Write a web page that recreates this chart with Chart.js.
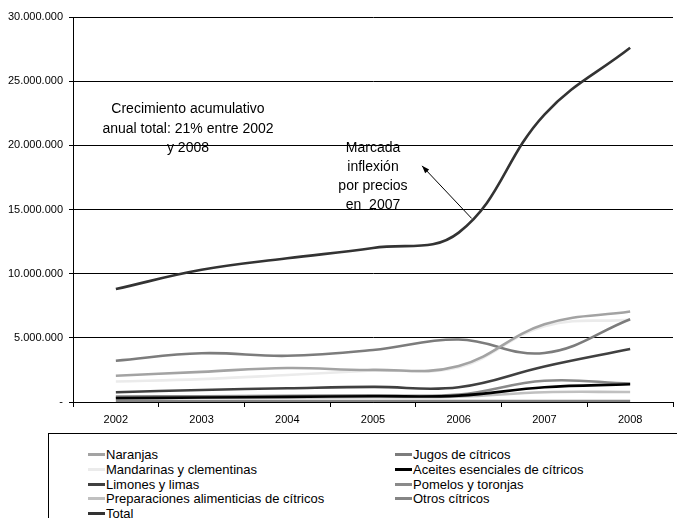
<!DOCTYPE html>
<html lang="es">
<head>
<meta charset="UTF-8">
<title>Exportaciones de cítricos</title>
<script src="https://cdn.jsdelivr.net/npm/chart.js"></script>
<style>
  body { margin: 0; width: 677px; height: 518px; overflow: hidden; background: #fff; font-family: "Liberation Sans", Arial, sans-serif; position: relative; }
  #wrap { position: absolute; left: 0; top: 0; width: 677px; height: 430px; }
  .nota { position: absolute; text-align: center; font-size: 14px; line-height: 19.5px; color: #000; white-space: nowrap; }
  #leyenda { position: absolute; left: 48px; top: 433px; width: 660px; height: 100px; border: 1px solid #000; box-sizing: border-box; }
  .item { position: absolute; font-size: 13px; line-height: 14px; white-space: nowrap; }
  .item span.m { display: inline-block; width: 17px; height: 3px; vertical-align: middle; margin-right: 1px; position: relative; top: -1px; }
</style>
</head>
<body>
<div id="wrap"><canvas id="grafico"></canvas></div>
<div class="nota" style="left:88px; top:99px; width:200px;">Crecimiento acumulativo<br>anual total: 21% entre 2002<br>y 2008</div>
<div class="nota" style="left:313px; top:138px; width:120px; line-height:19px;">Marcada<br>inflexión<br>por precios<br>en &nbsp;2007</div>
<div id="leyenda"></div>

<script>
const anios = ['2002', '2003', '2004', '2005', '2006', '2007', '2008'];

const naranjas      = [2050000, 2350000, 2650000, 2500000, 2800000, 6050000, 7050000];
const jugos         = [3220000, 3800000, 3600000, 4050000, 4870000, 3820000, 6450000];
const mandarinas    = [1600000, 1780000, 2100000, 2450000, 2700000, 5900000, 6400000];
const aceites       = [300000, 350000, 400000, 450000, 500000, 1150000, 1380000];
const limones       = [760000, 940000, 1070000, 1180000, 1150000, 2770000, 4130000];
const pomelos       = [420000, 450000, 480000, 520000, 580000, 1660000, 1430000];
const preparaciones = [270000, 300000, 330000, 370000, 420000, 760000, 780000];
const otros         = [60000, 60000, 70000, 70000, 70000, 80000, 80000];
const total         = [8800000, 10300000, 11200000, 12000000, 13200000, 22400000, 27600000];

const ticksY = [0, 5000000, 10000000, 15000000, 20000000, 25000000, 30000000];

// orden de la leyenda (dos columnas)
const series = [
  { label: 'Naranjas', data: naranjas, color: '#a3a3a3', col: 0, fila: 0 },
  { label: 'Jugos de cítricos', data: jugos, color: '#7c7c7c', col: 1, fila: 0 },
  { label: 'Mandarinas y clementinas', data: mandarinas, color: '#ebebeb', col: 0, fila: 1 },
  { label: 'Aceites esenciales de cítricos', data: aceites, color: '#000000', col: 1, fila: 1 },
  { label: 'Limones y limas', data: limones, color: '#404040', col: 0, fila: 2 },
  { label: 'Pomelos y toronjas', data: pomelos, color: '#8a8a8a', col: 1, fila: 2 },
  { label: 'Preparaciones alimenticias de cítricos', data: preparaciones, color: '#c0c0c0', col: 0, fila: 3 },
  { label: 'Otros cítricos', data: otros, color: '#858585', col: 1, fila: 3 },
  { label: 'Total', data: total, color: '#333333', col: 0, fila: 4 }
];

const formato = v => v === 0 ? '-' : String(v).replace(/\B(?=(\d{3})+(?!\d))/g, '.');

// flecha de la nota
const flecha = {
  id: 'flecha',
  afterDatasetsDraw(chart) {
    const { ctx, scales: { x, y } } = chart;
    const x1 = x.getPixelForValue(4) + 13, y1 = y.getPixelForValue(14300000);
    const x2 = x.getPixelForValue(3) + 49, y2 = y.getPixelForValue(18400000);
    ctx.save();
    ctx.strokeStyle = '#000';
    ctx.fillStyle = '#000';
    ctx.lineWidth = 1;
    ctx.beginPath();
    ctx.moveTo(x1, y1);
    ctx.lineTo(x2, y2);
    ctx.stroke();
    const ang = Math.atan2(y2 - y1, x2 - x1);
    ctx.beginPath();
    ctx.moveTo(x2, y2);
    ctx.lineTo(x2 - 8 * Math.cos(ang - 0.35), y2 - 8 * Math.sin(ang - 0.35));
    ctx.lineTo(x2 - 8 * Math.cos(ang + 0.35), y2 - 8 * Math.sin(ang + 0.35));
    ctx.closePath();
    ctx.fill();
    ctx.restore();
  }
};

Chart.defaults.font.family = '"Liberation Sans", Arial, sans-serif';
Chart.defaults.color = '#000';

new Chart(document.getElementById('grafico'), {
  type: 'line',
  data: {
    labels: anios,
    datasets: series.map(s => ({
      label: s.label,
      data: s.data,
      borderColor: s.color,
      backgroundColor: s.color,
      borderWidth: 2.6,
      pointRadius: 0,
      tension: 0.4,
      fill: false
    }))
  },
  options: {
    responsive: true,
    maintainAspectRatio: false,
    animation: false,
    layout: { padding: { top: 17, right: 4, left: 0, bottom: 0 } },
    plugins: { legend: { display: false }, tooltip: { enabled: false } },
    scales: {
      x: {
        offset: true,
        grid: { offset: true, drawOnChartArea: false, drawTicks: true, tickLength: 5, color: '#000' },
        border: { color: '#000', width: 1 },
        ticks: { font: { size: 11 }, padding: 6, maxRotation: 0 },
        afterFit: s => { s.height = 28; }
      },
      y: {
        min: 0,
        max: 30000000,
        afterBuildTicks: s => { s.ticks = ticksY.map(v => ({ value: v })); },
        grid: { color: '#000', tickLength: 4 },
        border: { color: '#000', width: 1 },
        ticks: { font: { size: 11 }, padding: 6, callback: v => formato(v) },
        afterFit: s => { s.width = 73; }
      }
    }
  },
  plugins: [flecha]
});

const leyenda = document.getElementById('leyenda');
series.forEach(s => {
  const d = document.createElement('div');
  d.className = 'item';
  d.style.left = (s.col === 0 ? 39 : 346) + 'px';
  d.style.top = (14 + s.fila * 14.8) + 'px';
  d.innerHTML = '<span class="m" style="background:' + s.color + '"></span>' + s.label;
  leyenda.appendChild(d);
});
</script>
</body>
</html>
